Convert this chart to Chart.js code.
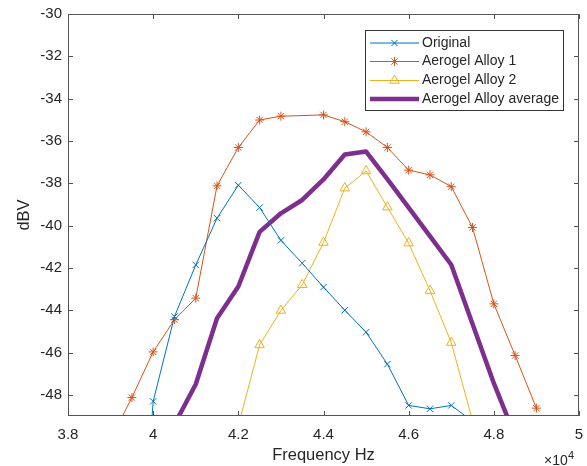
<!DOCTYPE html>
<html>
<head>
<meta charset="utf-8">
<script src="https://cdn.jsdelivr.net/npm/chart.js@4.4.1/dist/chart.umd.min.js"></script>
<style>
html, body { margin: 0; padding: 0; background: #fff; }
</style>
</head>
<body>
<canvas id="myChart" width="587" height="466"></canvas>
<script>
var freq = [39000, 39500, 40000, 40500, 41000, 41500, 42000, 42500, 43000, 43500, 44000,
            44500, 45000, 45500, 46000, 46500, 47000, 47500, 48000, 48500, 49000];
var original = [null, -62.0, -48.31, -44.30, -41.86, -39.65, -38.09, -39.15, -40.70, -41.78, -42.91,
                -44.00, -45.04, -46.55, -48.50, -48.66, -48.50, -49.25, null, null, null];
var alloy1 = [-50.1, -48.13, -45.97, -44.45, -43.43, -38.12, -36.31, -35.01, -34.83, null, -34.77,
              -35.09, -35.57, -36.31, -37.38, -37.60, -38.16, -40.09, -43.70, -46.14, -48.63];
var alloy2 = [null, null, null, null, null, null, -49.45, -45.64, -44.01, -42.80, -40.80,
              -38.23, -37.42, -39.13, -40.83, -43.07, -45.53, -49.22, null, null, null];
var alloyAvg = [null, null, null, -49.4, -47.5, -44.38, -42.88, -40.30, -39.42, -38.79, -37.82,
                -36.64, -36.50, -37.80, -39.15, -40.50, -41.85, -44.65, -47.45, -49.96, null];
var seriesNames = ['Original', 'Aerogel Alloy 1', 'Aerogel Alloy 2', 'Aerogel Alloy average'];
var xTicks = [38000, 40000, 42000, 44000, 46000, 48000, 50000];
var yTicks = [-48, -46, -44, -42, -40, -38, -36, -34, -32, -30];

var textColor = '#262626';
var fontName = '"Liberation Sans", Arial, Helvetica, sans-serif';

// box, inward ticks on all sides, x10^4 note and the legend, drawn like matlab does
var matlabAxes = {
    id: 'matlabAxes',
    afterDatasetsDraw: function(chart) {
        var ctx = chart.ctx;
        var a = chart.chartArea;
        var xs = chart.scales.x, ys = chart.scales.y;
        ctx.save();
        ctx.strokeStyle = '#555555';
        ctx.lineWidth = 1;
        ctx.strokeRect(a.left + 0.5, a.top + 0.5, a.right - a.left - 1, a.bottom - a.top - 1);
        ctx.beginPath();
        xTicks.forEach(function(v) {
            var px = Math.round(xs.getPixelForValue(v)) + 0.5;
            ctx.moveTo(px, a.top); ctx.lineTo(px, a.top + 5);
            ctx.moveTo(px, a.bottom); ctx.lineTo(px, a.bottom - 5);
        });
        yTicks.forEach(function(v) {
            var py = Math.round(ys.getPixelForValue(v)) + 0.5;
            ctx.moveTo(a.left, py); ctx.lineTo(a.left + 5, py);
            ctx.moveTo(a.right, py); ctx.lineTo(a.right - 5, py);
        });
        ctx.stroke();

        // exponent note
        ctx.fillStyle = textColor;
        ctx.textAlign = 'left';
        ctx.textBaseline = 'alphabetic';
        ctx.font = '14px ' + fontName;
        ctx.fillText('\u00d710', 544, 465);
        ctx.font = '11px ' + fontName;
        ctx.fillText('4', 568, 459);

        // legend
        var lx = 365, ly = 30, lw = 199, lh = 81;
        ctx.fillStyle = '#ffffff';
        ctx.fillRect(lx, ly, lw, lh);
        ctx.strokeStyle = '#333333';
        ctx.strokeRect(lx + 0.5, ly + 0.5, lw - 1, lh - 1);
        var rowY = [43, 61.5, 80.5, 99];
        chart.data.datasets.forEach(function(ds, i) {
            var y = rowY[i];
            ctx.strokeStyle = ds.borderColor;
            ctx.lineWidth = ds.borderWidth;
            ctx.beginPath();
            ctx.moveTo(370, y); ctx.lineTo(419, y);
            ctx.stroke();
            if (ds.pointRadius > 0) {
                ctx.fillStyle = 'rgba(0,0,0,0)';
                ctx.strokeStyle = ds.borderColor;
                ctx.lineWidth = 1;
                Chart.helpers.drawPoint(ctx, {
                    pointStyle: ds.pointStyle, radius: ds.pointRadius,
                    borderWidth: 1, rotation: 0
                }, 394.5, y);
            }
            ctx.fillStyle = textColor;
            ctx.font = '14px ' + fontName;
            ctx.textBaseline = 'middle';
            ctx.fillText(ds.label, 422, y);
        });
        ctx.restore();
    }
};

var ctx = document.getElementById('myChart');
var myChart = new Chart(ctx, {
    type: 'line',
    data: {
        labels: freq,
        datasets: [
            {
                label: seriesNames[0],
                data: original,
                borderColor: '#0072BD',
                borderWidth: 1,
                pointStyle: 'crossRot',
                pointRadius: 4.5,
                pointBorderWidth: 1,
                pointBorderColor: '#0072BD',
                pointBackgroundColor: 'rgba(0,0,0,0)',
                clip: 0
            },
            {
                label: seriesNames[1],
                data: alloy1,
                borderColor: '#D95319',
                borderWidth: 1,
                pointStyle: 'star',
                pointRadius: 4.5,
                pointBorderWidth: 1,
                pointBorderColor: '#D95319',
                pointBackgroundColor: 'rgba(0,0,0,0)',
                spanGaps: true,
                clip: 0
            },
            {
                label: seriesNames[2],
                data: alloy2,
                borderColor: '#EDB120',
                borderWidth: 1,
                pointStyle: 'triangle',
                pointRadius: 5.5,
                pointBorderWidth: 1,
                pointBorderColor: '#EDB120',
                pointBackgroundColor: 'rgba(0,0,0,0)',
                clip: 0
            },
            {
                label: seriesNames[3],
                data: alloyAvg,
                borderColor: '#7E2F8E',
                borderWidth: 4.5,
                borderJoinStyle: 'round',
                pointRadius: 0,
                clip: 0
            }
        ]
    },
    options: {
        responsive: false,
        animation: false,
        layout: { padding: { top: 14, right: 8, left: 0, bottom: 0 } },
        elements: { line: { tension: 0 } },
        plugins: {
            legend: { display: false },
            tooltip: { enabled: false }
        },
        scales: {
            x: {
                type: 'linear',
                min: 38000,
                max: 50000,
                afterBuildTicks: function(s) { s.ticks = xTicks.map(function(v) { return { value: v }; }); },
                afterFit: function(s) {
                    s.height = 50;
                    s.paddingLeft = 0;
                    s.paddingRight = 0;
                },
                grid: { display: false, drawTicks: false },
                border: { display: false },
                ticks: {
                    color: textColor,
                    font: { family: fontName, size: 15 },
                    padding: 9.5,
                    maxRotation: 0,
                    autoSkip: false,
                    callback: function(v) { return String(v / 10000); }
                },
                title: {
                    display: true,
                    text: 'Frequency Hz',
                    color: textColor,
                    font: { family: fontName, size: 16.5 },
                    padding: { top: 0, bottom: 0.5 }
                }
            },
            y: {
                min: -49,
                max: -30,
                afterBuildTicks: function(s) { s.ticks = yTicks.map(function(v) { return { value: v }; }); },
                afterFit: function(s) {
                    s.width = 68;
                    s.paddingTop = 0;
                    s.paddingBottom = 0;
                },
                grid: { display: false, drawTicks: false },
                border: { display: false },
                ticks: {
                    color: textColor,
                    font: { family: fontName, size: 15 },
                    padding: 6
                },
                title: {
                    display: true,
                    text: 'dBV',
                    color: textColor,
                    font: { family: fontName, size: 16.5 },
                    padding: { top: 14.5, bottom: 0 }
                }
            }
        }
    },
    plugins: [matlabAxes]
});
</script>
</body>
</html>
